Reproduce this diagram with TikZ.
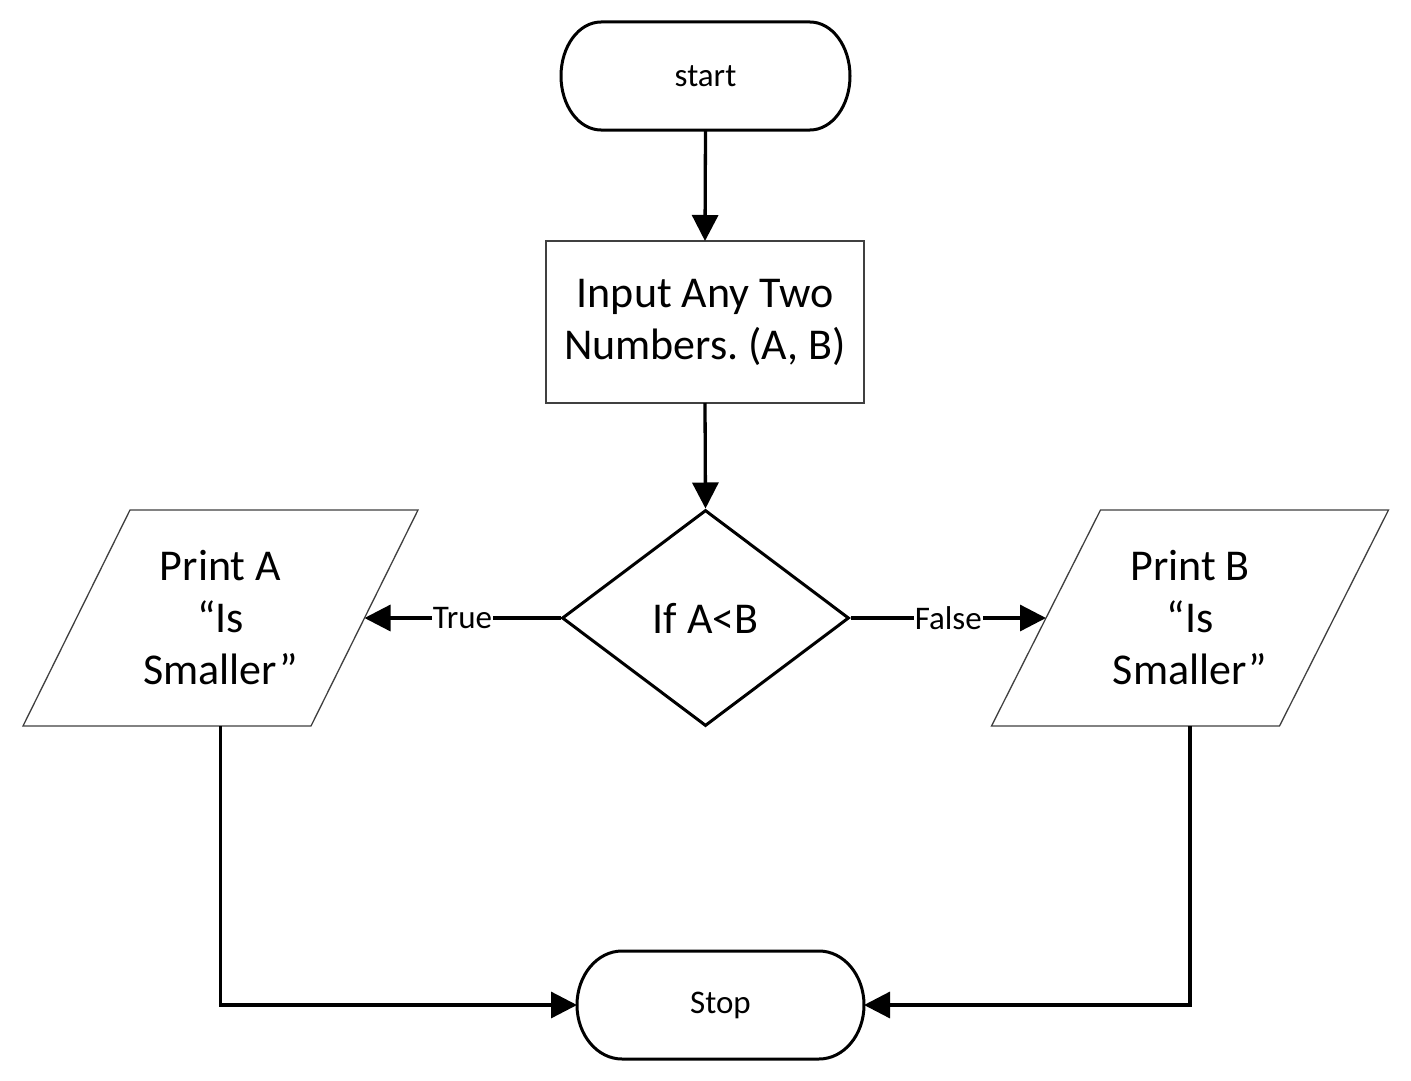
\documentclass[tikz,border=0pt]{standalone}
\usepackage{fontspec}
\setmainfont{Carlito}
\usetikzlibrary{shapes.geometric,arrows.meta}
\frenchspacing
\begin{document}
\begin{tikzpicture}[x=1pt,y=-1pt,
  conn/.style={line width=3.3pt,-{Triangle[length=26pt,width=26pt]}},
  bigtext/.style={font=\fontsize{44}{52}\selectfont,align=center},
  smalltext/.style={font=\fontsize{33}{38}\selectfont},
  edgetext/.style={font=\fontsize{33}{38}\selectfont,fill=white,inner sep=1pt},
  frame/.style={inner sep=0pt,outer sep=0pt},
  thickline/.style={line width=3pt},
  thinline/.style={line width=1.3pt,draw=black!75},
]
\fill[white] (0,0) rectangle (1411,1081);
\useasboundingbox (0,0) rectangle (1411,1081);

% terminal: start
\node[frame,smalltext,minimum width=289pt,minimum height=108pt] (start) at (705.5,76) {start};
\draw[thickline] ([xshift=40pt]start.north west) -- ([xshift=-40pt]start.north east)
  arc[start angle=90,end angle=-90,x radius=40pt,y radius=54pt]
  -- ([xshift=40pt]start.south west)
  arc[start angle=270,end angle=90,x radius=40pt,y radius=54pt] -- cycle;

% input box
\node[frame,bigtext,thinline,draw,minimum width=318pt,minimum height=162pt] (input) at (705,322) {Input Any Two\\Numbers. (A, B)};

% decision
\node[diamond,draw,thickline,inner sep=0pt,aspect=1.33,minimum width=287pt,minimum height=216pt,bigtext] (dec) at (705.5,618) {If A<B};

% output A
\node[frame,bigtext,minimum width=288pt,minimum height=216pt] (pa) at (220.5,618) {Print A\\“Is\\Smaller”};
\draw[thinline] ([xshift=53.5pt]pa.north west) -- ([xshift=53.5pt]pa.north east)
  -- ([xshift=-53.5pt]pa.south east) -- ([xshift=-53.5pt]pa.south west) -- cycle;

% output B
\node[frame,bigtext,minimum width=288pt,minimum height=216pt] (pb) at (1190,618) {Print B\\“Is\\Smaller”};
\draw[thinline] ([xshift=54.5pt]pb.north west) -- ([xshift=54.5pt]pb.north east)
  -- ([xshift=-54.5pt]pb.south east) -- ([xshift=-54.5pt]pb.south west) -- cycle;

% terminal: stop
\node[frame,smalltext,minimum width=287pt,minimum height=108pt] (stop) at (720.5,1005) {Stop};
\draw[thickline] ([xshift=45pt]stop.north west) -- ([xshift=-45pt]stop.north east)
  arc[start angle=90,end angle=-90,x radius=45pt,y radius=54pt]
  -- ([xshift=45pt]stop.south west)
  arc[start angle=270,end angle=90,x radius=45pt,y radius=54pt] -- cycle;

% connectors
\draw[conn] (start.south) -- (input.north);
\draw[conn] (input.south) -- (dec.north);
\draw[conn] (dec.west) -- node[edgetext] {True} (pa.east);
\draw[conn] (dec.east) -- node[edgetext] {False} (pb.west);
\draw[conn] (pa.south) |- (stop.west);
\draw[conn] (pb.south) |- (stop.east);
\end{tikzpicture}
\end{document}
